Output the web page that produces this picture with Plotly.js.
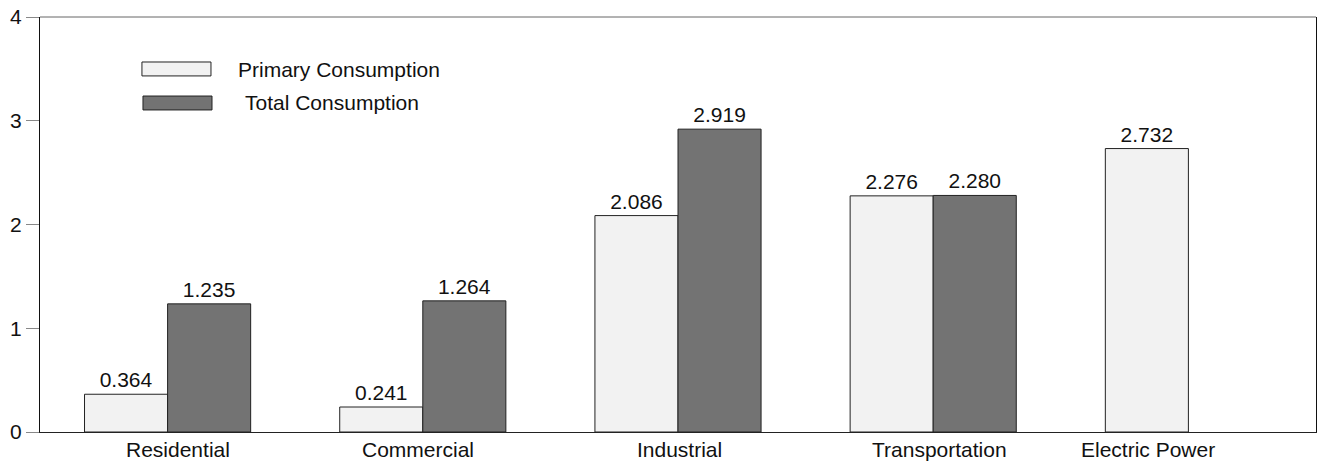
<!DOCTYPE html>
<html>
<head>
<meta charset="utf-8">
<script src="https://cdn.plot.ly/plotly-3.0.1.min.js"></script>
<style>html,body{margin:0;padding:0;background:#fff;}#chart{width:1318px;height:466px;}</style>
</head>
<body>
<div id="chart"></div>
<script>
const categories = ["Residential", "Commercial", "Industrial", "Transportation", "Electric Power"];
const primaryConsumption = [0.364, 0.241, 2.086, 2.276, 2.732];
const totalConsumption = [1.235, 1.264, 2.919, 2.280, null];
const seriesNames = ["Primary Consumption", "Total Consumption"];
const yTicks = [0, 1, 2, 3, 4];

// label placement offsets (in category units) to match reference
const labelOffsets = [0.041, -0.019, 0.006, 0.025, -0.158];

const FONT = {family: '"Liberation Sans", Arial, sans-serif', size: 21, color: '#111'};

const traces = [
  {
    type: 'bar', name: seriesNames[0], x: categories, y: primaryConsumption,
    marker: {color: '#f2f2f2', line: {color: '#222', width: 1}},
    text: primaryConsumption.map(v => v == null ? '' : v.toFixed(3)),
    textposition: 'outside', cliponaxis: false,
    textfont: FONT, hoverinfo: 'none'
  },
  {
    type: 'bar', name: seriesNames[1], x: categories, y: totalConsumption,
    marker: {color: '#737373', line: {color: '#222', width: 1}},
    text: totalConsumption.map(v => v == null ? '' : v.toFixed(3)),
    textposition: 'outside', cliponaxis: false,
    textfont: FONT, hoverinfo: 'none'
  }
];

const annotations = categories.map((c, i) => ({
  x: i + labelOffsets[i], xref: 'x', y: -0.041, yref: 'paper',
  text: c, showarrow: false, xanchor: 'center', yanchor: 'middle', font: FONT
}));
annotations.push(
  {x: 0.1536, y: 0.8735, xref: 'paper', yref: 'paper', text: seriesNames[0], showarrow: false, xanchor: 'left', yanchor: 'middle', font: FONT},
  {x: 0.1592, y: 0.7928, xref: 'paper', yref: 'paper', text: seriesNames[1], showarrow: false, xanchor: 'left', yanchor: 'middle', font: FONT}
);

const shapes = [
  {type: 'rect', xref: 'paper', yref: 'paper', x0: 0.0799, x1: 0.134, y0: 0.858, y1: 0.8916, fillcolor: '#f2f2f2', line: {color: '#222', width: 1}},
  {type: 'rect', xref: 'paper', yref: 'paper', x0: 0.0807, x1: 0.1348, y0: 0.776, y1: 0.8096, fillcolor: '#737373', line: {color: '#222', width: 1}},
  {type: 'line', xref: 'paper', yref: 'paper', x0: 0, x1: 1, y0: 1, y1: 1, line: {color: '#666', width: 1}}
];

const layout = {
  width: 1318, height: 466,
  margin: {l: 40, r: 2, t: 17, b: 34, pad: 0},
  paper_bgcolor: '#fff', plot_bgcolor: '#fff',
  font: FONT,
  showlegend: false,
  barmode: 'group', bargap: 0.349, bargroupgap: 0,
  xaxis: {
    type: 'category', range: [-0.5, 4.5], showticklabels: false, ticks: '',
    showgrid: false, zeroline: false, showline: true, linecolor: '#222', linewidth: 1, fixedrange: true
  },
  yaxis: {
    range: [0, 4], tickvals: yTicks, ticktext: yTicks.map(String),
    ticks: 'outside', ticklen: 13, tickcolor: '#888', tickwidth: 1,
    showgrid: false, zeroline: false, showline: true, mirror: true, linecolor: '#111', linewidth: 1,
    tickfont: FONT, fixedrange: true
  },
  annotations: annotations,
  shapes: shapes
};

Plotly.newPlot('chart', traces, layout, {staticPlot: true, displayModeBar: false});
</script>
</body>
</html>
